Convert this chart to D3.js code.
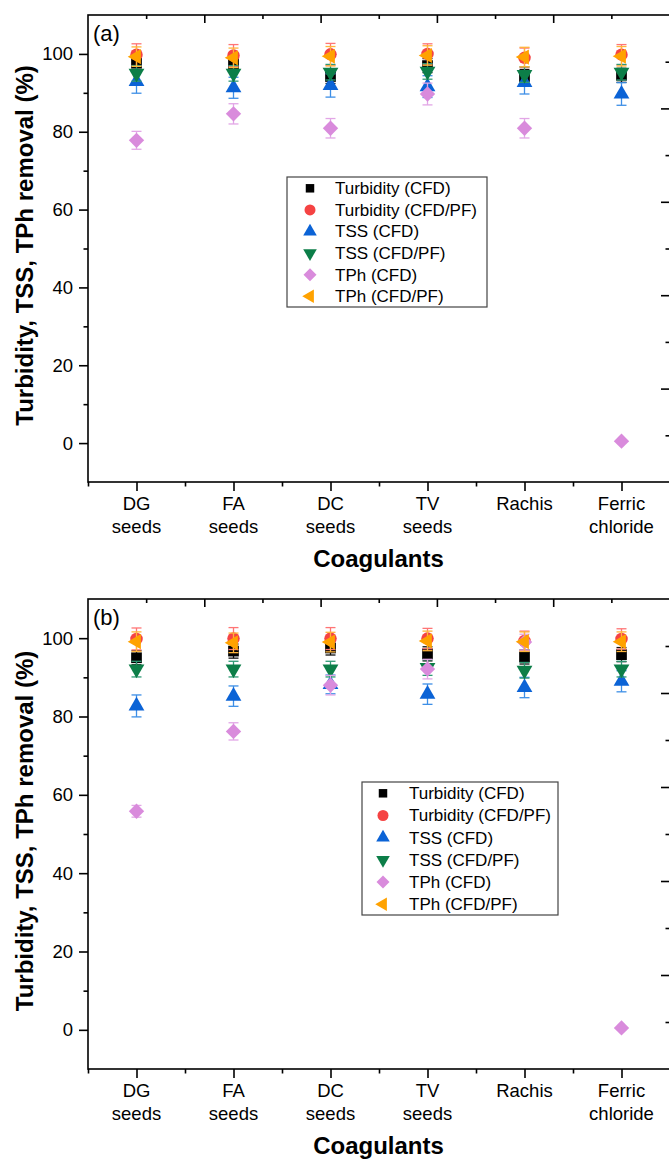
<!DOCTYPE html>
<html>
<head>
<meta charset="utf-8">
<script src="https://cdn.jsdelivr.net/npm/d3@7"></script>
<style>
  html, body { margin: 0; padding: 0; background: #ffffff; }
  svg { display: block; font-family: "Liberation Sans", Arial, sans-serif; }
</style>
</head>
<body>
<svg id="chart" width="669" height="1163"></svg>
<script>
// Coagulant categories (x axis), one label line per entry
const categoryLabels = ["DG\nseeds", "FA\nseeds", "DC\nseeds", "TV\nseeds", "Rachis", "Ferric\nchloride"];

const seriesNames = ["Turbidity (CFD)", "Turbidity (CFD/PF)", "TSS (CFD)", "TSS (CFD/PF)", "TPh (CFD)", "TPh (CFD/PF)"];

const yMajorTicks = [0, 20, 40, 60, 80, 100];
const yMinorTicks = [10, 30, 50, 70, 90];

// Panel (a): removal (%) per coagulant
const turbidityCFD_a   = [97.6, 97.5, 94.2, 97.0, 94.2, 94.5];
const turbidityCFDPF_a = [99.8, 99.6, 99.9, 100.0, 99.0, 99.8];
const tssCFD_a         = [92.9, 91.3, 91.9, 91.6, 92.7, 89.7];
const tssCFDPF_a       = [95.0, 95.0, 95.3, 95.5, 94.7, 95.3];
const tphCFD_a         = [77.8, 84.6, 80.9, 89.7, 80.9, 0.5];
const tphCFDPF_a       = [99.3, 99.0, 99.4, 99.6, 99.2, 99.4];

// Panel (a): standard deviations
const turbidityCFD_a_err   = [1.8, 1.8, 1.8, 1.8, 1.8, 1.8];
const turbidityCFDPF_a_err = [2.8, 2.8, 2.8, 2.6, 2.5, 2.6];
const tssCFD_a_err         = [3.0, 2.7, 3.0, 2.8, 3.0, 2.9];
const tssCFDPF_a_err       = [2.0, 2.0, 2.0, 2.0, 2.0, 2.0];
const tphCFD_a_err         = [2.3, 2.6, 2.5, 2.8, 2.5, 0];
const tphCFDPF_a_err       = [2.5, 2.5, 2.5, 2.5, 2.5, 2.5];

// Panel (b): removal (%) per coagulant
const turbidityCFD_b   = [95.0, 96.7, 97.5, 96.0, 95.2, 95.8];
const turbidityCFDPF_b = [99.8, 99.9, 99.9, 99.9, 99.3, 99.8];
const tssCFD_b         = [82.7, 85.2, 88.2, 85.7, 87.4, 89.0];
const tssCFDPF_b       = [92.1, 92.1, 92.1, 92.5, 91.8, 92.1];
const tphCFD_b         = [55.8, 76.2, 88.0, 92.1, 99.0, 0.5];
const tphCFDPF_b       = [99.1, 98.8, 99.0, 99.3, 99.1, 99.1];

// Panel (b): standard deviations
const turbidityCFD_b_err   = [1.8, 1.8, 1.8, 1.8, 1.8, 1.8];
const turbidityCFDPF_b_err = [2.8, 2.8, 2.8, 2.6, 2.5, 2.6];
const tssCFD_b_err         = [2.8, 2.6, 2.4, 2.6, 2.6, 2.7];
const tssCFDPF_b_err       = [2.0, 2.0, 2.0, 2.0, 2.0, 2.0];
const tphCFD_b_err         = [1.5, 2.2, 2.5, 2.5, 2.0, 0];
const tphCFDPF_b_err       = [2.5, 2.5, 2.5, 2.5, 2.5, 2.5];

// Marker styling per series
const markerColors = ["#000000", "#f54343", "#0b63d6", "#0c7e48", "#d98bdc", "#ffa200"];
const errorColors  = ["#111111", "#ff7575", "#3d8fe6", "#2e9a74", "#e2a6e6", "#ffb43a"];
const markerShapes = ["square", "circle", "triangleUp", "triangleDown", "diamond", "triangleLeft"];

const panels = [
  {
    tag: "(a)", top: 15, bottom: 482,
    values: [turbidityCFD_a, turbidityCFDPF_a, tssCFD_a, tssCFDPF_a, tphCFD_a, tphCFDPF_a],
    errors: [turbidityCFD_a_err, turbidityCFDPF_a_err, tssCFD_a_err, tssCFDPF_a_err, tphCFD_a_err, tphCFDPF_a_err],
    legend: { x: 287, y: 177, w: 200, h: 130, symX: 23, textX: 48 }
  },
  {
    tag: "(b)", top: 599, bottom: 1069,
    values: [turbidityCFD_b, turbidityCFDPF_b, tssCFD_b, tssCFDPF_b, tphCFD_b, tphCFDPF_b],
    errors: [turbidityCFD_b_err, turbidityCFDPF_b_err, tssCFD_b_err, tssCFDPF_b_err, tphCFD_b_err, tphCFDPF_b_err],
    legend: { x: 362, y: 782, w: 196, h: 133, symX: 21, textX: 47 }
  }
];

const svg = d3.select("#chart");
const left = 88, right = 670;
const tickFont = 18.5;

const x = d3.scaleLinear().domain([0.5, 6.5]).range([left, right]);

function symbolPath(shape, area) {
  const gen = d3.symbol().size(area);
  if (shape === "square") return { d: gen.type(d3.symbolSquare)(), rot: 0 };
  if (shape === "circle") return { d: gen.type(d3.symbolCircle)(), rot: 0 };
  if (shape === "triangleUp") return { d: gen.type(d3.symbolTriangle)(), rot: 0 };
  if (shape === "triangleDown") return { d: gen.type(d3.symbolTriangle)(), rot: 180 };
  if (shape === "triangleLeft") return { d: gen.type(d3.symbolTriangle)(), rot: -90 };
  return { d: gen.type(d3.symbolSquare)(), rot: 45 };
}
const markerArea = { square: 115, circle: 122, triangleUp: 108, triangleDown: 108, triangleLeft: 100, diamond: 118 };
const legendArea = { square: 72, circle: 95, triangleUp: 80, triangleDown: 80, triangleLeft: 78, diamond: 85 };

function styleAxis(g) {
  g.select(".domain").remove();
  g.selectAll(".tick line").attr("stroke", "#000").attr("stroke-width", 1.6);
  g.selectAll(".tick text").remove();
}

panels.forEach(p => {
  const y = d3.scaleLinear().domain([-10, 110]).range([p.bottom, p.top]);
  const g = svg.append("g");

  // Left axis: major ticks with labels, minor ticks without
  g.append("g").attr("transform", `translate(${left},0)`)
    .call(d3.axisLeft(y).tickValues(yMajorTicks).tickSize(9)).call(styleAxis);
  g.append("g").attr("transform", `translate(${left},0)`)
    .call(d3.axisLeft(y).tickValues(yMinorTicks).tickSize(4.5)).call(styleAxis);
  g.append("g").selectAll("text").data(yMajorTicks).join("text")
    .attr("x", left - 15).attr("y", d => y(d)).attr("dy", "0.35em")
    .attr("text-anchor", "end").attr("font-size", tickFont).attr("fill", "#000")
    .text(d => d);

  // Bottom axis: category ticks and half-step minors
  g.append("g").attr("transform", `translate(0,${p.bottom})`)
    .call(d3.axisBottom(x).tickValues(d3.range(1, 7)).tickSize(9)).call(styleAxis);
  g.append("g").attr("transform", `translate(0,${p.bottom})`)
    .call(d3.axisBottom(x).tickValues(d3.range(0.5, 7, 1)).tickSize(4.5)).call(styleAxis);

  // Category labels, multi-line
  const labels = g.append("g").selectAll("text").data(categoryLabels).join("text")
    .attr("text-anchor", "middle").attr("font-size", tickFont).attr("fill", "#000")
    .attr("transform", (d, i) => `translate(${x(i + 1)},${p.bottom + 28})`);
  labels.each(function (d) {
    d3.select(this).selectAll("tspan").data(d.split("\n")).join("tspan")
      .attr("x", 0).attr("y", (t, k) => k * 23).text(t => t);
  });

  // Frame ticks along the top and right edges
  const topScale = d3.scaleLinear().domain([0, 10]).range([left, 669.5]);
  g.append("g").attr("transform", `translate(0,${p.top})`)
    .call(d3.axisBottom(topScale).tickValues([2, 4, 6, 8]).tickSize(8)).call(styleAxis);
  g.append("g").attr("transform", `translate(0,${p.top})`)
    .call(d3.axisBottom(topScale).tickValues([1, 3, 5, 7, 9]).tickSize(4)).call(styleAxis);
  const rightScale = d3.scaleLinear().domain([0, 10]).range([p.bottom, p.top]);
  g.append("g").attr("transform", `translate(${right},0)`)
    .call(d3.axisLeft(rightScale).tickValues([2, 4, 6, 8]).tickSize(9)).call(styleAxis);
  g.append("g").attr("transform", `translate(${right},0)`)
    .call(d3.axisLeft(rightScale).tickValues([1, 3, 5, 7, 9]).tickSize(4.5)).call(styleAxis);

  // Frame
  g.append("rect").attr("x", left).attr("y", p.top)
    .attr("width", right - left).attr("height", p.bottom - p.top)
    .attr("fill", "none").attr("stroke", "#000").attr("stroke-width", 1.6);

  // Axis titles
  g.append("text")
    .attr("transform", `translate(33,${(p.top + p.bottom) / 2 - 3}) rotate(-90)`)
    .attr("text-anchor", "middle").attr("font-size", 24).attr("font-weight", "bold")
    .text("Turbidity, TSS, TPh removal (%)");
  g.append("text")
    .attr("x", (left + right) / 2 - 0.5).attr("y", p.bottom + 85)
    .attr("text-anchor", "middle").attr("font-size", 24).attr("font-weight", "bold")
    .text("Coagulants");

  // Panel tag
  g.append("text").attr("x", 93).attr("y", p.top + 26)
    .attr("font-size", 22).text(p.tag);

  // Series: error bars then markers
  p.values.forEach((vals, s) => {
    const errs = p.errors[s];
    const pts = vals.map((v, i) => ({ i: i + 1, v, e: errs[i] }));
    const sg = g.append("g");
    const eb = sg.append("g").attr("stroke", errorColors[s]).attr("stroke-width", 1.3).attr("fill", "none");
    pts.filter(d => d.e > 0).forEach(d => {
      const cx = x(d.i), y1 = y(d.v + d.e), y2 = y(d.v - d.e);
      eb.append("line").attr("x1", cx).attr("x2", cx).attr("y1", y1).attr("y2", y2);
      eb.append("line").attr("x1", cx - 5).attr("x2", cx + 5).attr("y1", y1).attr("y2", y1);
      eb.append("line").attr("x1", cx - 5).attr("x2", cx + 5).attr("y1", y2).attr("y2", y2);
    });
    const sym = symbolPath(markerShapes[s], markerArea[markerShapes[s]]);
    sg.append("g").selectAll("path").data(pts).join("path")
      .attr("d", sym.d).attr("fill", markerColors[s])
      .attr("transform", d => `translate(${x(d.i)},${y(d.v)}) rotate(${sym.rot})`);
  });

  // Legend
  const L = p.legend;
  const lg = g.append("g").attr("transform", `translate(${L.x},${L.y})`);
  lg.append("rect").attr("width", L.w).attr("height", L.h)
    .attr("fill", "#fff").attr("stroke", "#444").attr("stroke-width", 1.2);
  const rowH = (L.h - 22) / 5;
  seriesNames.forEach((name, s) => {
    const cy = 11.3 + rowH * s;
    const sym = symbolPath(markerShapes[s], legendArea[markerShapes[s]]);
    lg.append("path").attr("d", sym.d).attr("fill", markerColors[s])
      .attr("transform", `translate(${L.symX},${cy}) rotate(${sym.rot})`);
    lg.append("text").attr("x", L.textX).attr("y", cy).attr("dy", "0.35em")
      .attr("font-size", 17).attr("fill", "#000").text(name);
  });
});
</script>
</body>
</html>
